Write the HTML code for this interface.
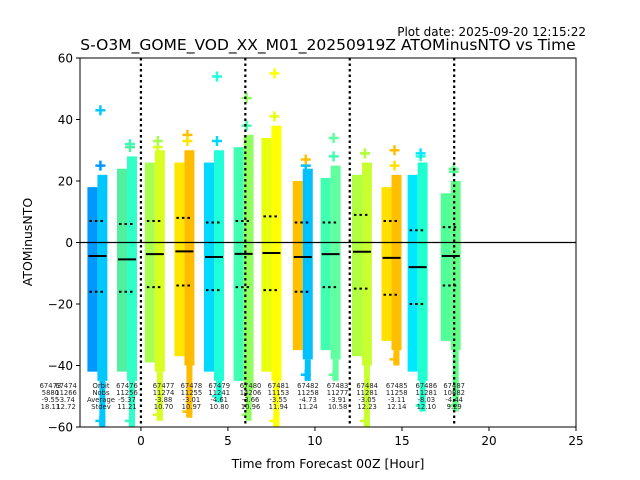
<!DOCTYPE html>
<html><head><meta charset="utf-8"><style>
body{margin:0;background:#fff;font-family:"DejaVu Sans","Liberation Sans",sans-serif}
svg{display:block}
</style></head><body>
<svg id="chart" width="640" height="480" viewBox="0 0 640 480" font-family="DejaVu Sans, Liberation Sans, sans-serif">
<text x="586" y="36" font-size="12" text-anchor="end">Plot date: 2025-09-20 12:15:22</text>
<text x="328" y="50" font-size="15.5" text-anchor="middle">S-O3M_GOME_VOD_XX_M01_20250919Z ATOMinusNTO vs Time</text>
<g id="marks"></g>
<g id="axes"></g>
<text x="328" y="468" font-size="12.5" text-anchor="middle">Time from Forecast 00Z [Hour]</text>
<text transform="translate(32,242) rotate(-90)" font-size="12.5" text-anchor="middle">ATOMinusNTO</text>
</svg>
<script>
const hours=[-2.5,-0.8,0.8,2.5,4.2,5.9,7.5,9.3,10.9,12.7,14.4,15.9,17.8];
const means=[-4.4,-5.5,-3.8,-2.9,-4.7,-3.7,-3.4,-4.7,-3.8,-3.0,-5.0,-8.0,-4.4];
const stdUp=[7,6,7,8,6.5,7,8.5,6.5,6.5,9,7,4,5];
const stdDn=[-16,-16,-14.5,-14,-15.5,-14.5,-15.5,-16,-14.5,-15,-17,-20,-14];
const mins=[-45,-45,-42,-40,-45,-48,-45,-38,-38,-40,-35,-45,-35];
const maxs=[22,28,30,30,30,35,38,24,25,26,22,26,20];
const outTop=[43,32,31,35,54,47,55,25,34,29,30,28,24];
const outBot=[-60,-60,-58,-57,-52,-58,-60,-45,-45,-60,-40,-55,-55];
const colA=["#0098ff","#50f0a0","#a8ff50","#ffe600","#00d8ff","#40ffb0","#e8ff10","#ffc000","#40ffb0","#b0ff40","#ffe000","#00e8ff","#50ff98"];
const colB=["#00c8ff","#30ffc8","#d8ff20","#ffbc00","#20ffd8","#90ff60","#ffff00","#00c0ff","#60ffa0","#c8ff30","#ffbe00","#20ffd0","#60ff88"];
const orbitIds=["67473","67474","67476","67477","67478","67479","67480","67481","67482","67483","67484","67485","67486","67487"];
const nobs=["5880","11266","11256","11274","11255","11241","14206","11153","11258","11277","11281","11258","11281","10882"];
const avgs=["-9.55","-3.74","-5.37","-3.88","-3.01","-4.61","-3.66","-3.55","-4.73","-3.91","-3.05","-3.11","-8.03","-4.44"];
const stds=["18.11","12.72","11.21","10.70","10.97","10.80","10.96","11.94","11.24","10.58","12.23","12.14","12.10","9.29"];
const labelHours=[-5.2,-4.3,-0.8,1.3,2.9,4.5,6.3,7.9,9.6,11.3,13.0,14.7,16.4,18.0];
const xTicks=[0,5,10,15,20,25];
const yTicks=[60,40,20,0,-20,-40,-60];
const vLines=[0,6,12,18];

const L=80,R=576,T=58,B=427,xmin=-3.5,xmax=25,ymin=-60,ymax=60;
const X=v=>L+(v-xmin)/(xmax-xmin)*(R-L);
const Y=v=>B-(v-ymin)/(ymax-ymin)*(B-T);
const NS="http://www.w3.org/2000/svg";
function mk(tag,attrs,parent){const e=document.createElementNS(NS,tag);for(const k in attrs)e.setAttribute(k,attrs[k]);parent.appendChild(e);return e;}
const marks=document.getElementById('marks'),axes=document.getElementById('axes');
const clip=mk('clipPath',{id:'pc'},marks);mk('rect',{x:L,y:T,width:R-L,height:B-T},clip);
const g=mk('g',{'clip-path':'url(#pc)'},marks);
hours.forEach((h,i)=>{
  const cx=X(h);
  let e=mk('rect',{x:cx-10,y:Y(maxs[i]-4),width:10,height:Y(mins[i]+3)-Y(maxs[i]-4),fill:colA[i]},g);
  
  
  e=mk('rect',{x:cx,y:Y(maxs[i]),width:10,height:Y(mins[i])-Y(maxs[i]),fill:colB[i]},g);
  
  
  const tail=mk('rect',{x:cx+2,y:Y(mins[i]),width:6,height:Y(outBot[i])-Y(mins[i]),fill:colB[i]},g);
  
  
  [[outTop[i],colB[i]],[maxs[i]+3,colA[i]],[outBot[i]+2,colB[i]]].forEach(([v,c])=>{
    const p=mk('path',{d:`M${cx+3} ${Y(v)-5}v10M${cx-2} ${Y(v)}h10`,stroke:c,'stroke-width':2.5},g);
    
    
  });
});
vLines.forEach(v=>{const l=mk('line',{x1:X(v),x2:X(v),y1:T,y2:B,stroke:'#000','stroke-width':2.2,'stroke-dasharray':'2.5,3'},g);
  
  });
let z=mk('line',{x1:L,x2:R,y1:Y(0),y2:Y(0),stroke:'#000','stroke-width':1.2},g);


hours.forEach((h,i)=>{
  const cx=X(h);
  let m=mk('line',{x1:cx-9,x2:cx+9,y1:Y(means[i]),y2:Y(means[i]),stroke:'#000','stroke-width':2},g);
  
  
  [stdUp[i],stdDn[i]].forEach(v=>{const s=mk('line',{x1:cx-8,x2:cx+8,y1:Y(v),y2:Y(v),stroke:'#000','stroke-width':2,'stroke-dasharray':'2.5,3'},g);
    
    });
});
const lg=mk('g',{'font-size':6.8,'text-anchor':'middle',fill:'#222'},marks);
const rows=[orbitIds,nobs,avgs,stds],ry=[388,395,402,409];
labelHours.forEach((h,i)=>{rows.forEach((r,k)=>{const t=mk('text',{x:X(h),y:ry[k]},lg);t.textContent=r[i];
  
  });});
["Orbit","Nobs","Average","Stdev"].forEach((s,k)=>{const t=mk('text',{x:101,y:ry[k]},lg);t.textContent=s;
  
  });
let fr=mk('rect',{x:L,y:T,width:R-L,height:B-T,fill:'none',stroke:'#000','stroke-width':1},axes);


xTicks.forEach(v=>{mk('line',{x1:X(v),x2:X(v),y1:B,y2:B+4,stroke:'#000'},axes);
  const t=mk('text',{x:X(v),y:B+18,'font-size':12,'text-anchor':'middle'},axes);t.textContent=v;
  
  });
yTicks.forEach(v=>{mk('line',{x1:L-4,x2:L,y1:Y(v),y2:Y(v),stroke:'#000'},axes);
  const t=mk('text',{x:L-7,y:Y(v)+4.5,'font-size':12,'text-anchor':'end'},axes);t.textContent=v<0?'\u2212'+(-v):v;
  
  });
</script>
</body></html>
